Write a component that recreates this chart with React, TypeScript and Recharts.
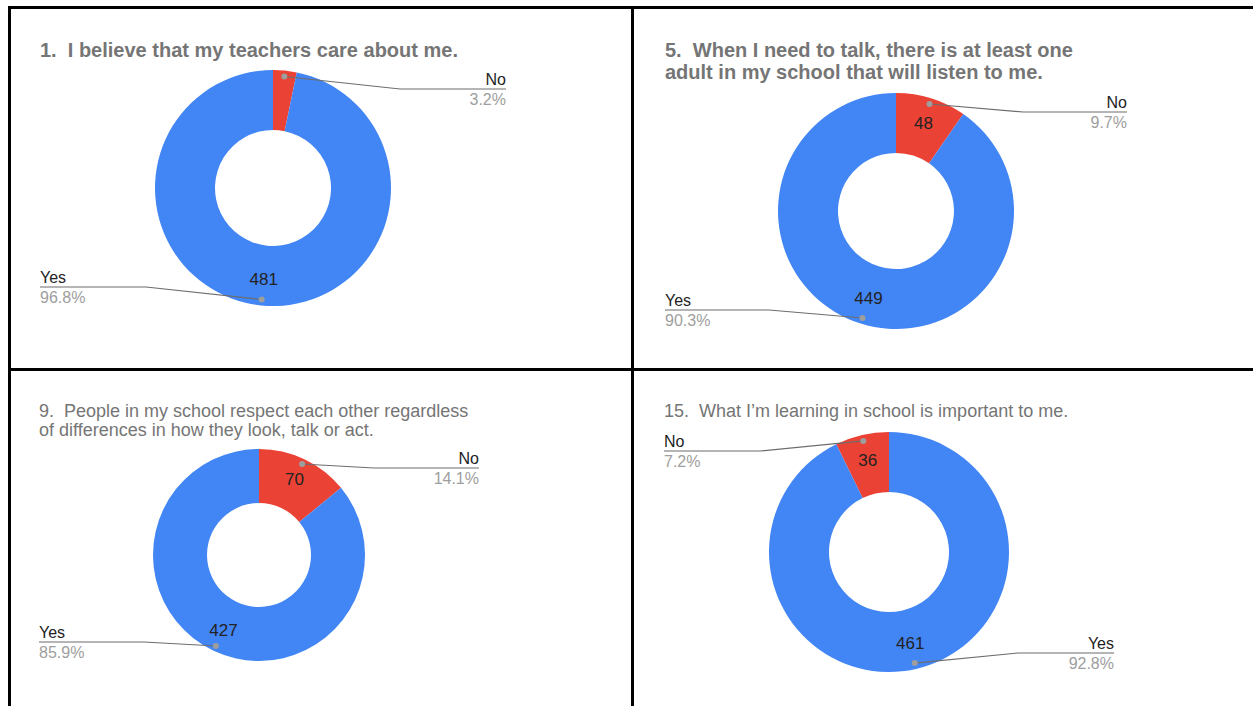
import { PieChart, Pie, Cell } from 'recharts';

// survey answers, shared by all four questions
const answers = ['No', 'Yes'];
const answerColors = ['#ea4335', '#4285f4'];

// response counts per question, in the order of `answers`
const q1Values = [16, 481];
const q5Values = [48, 449];
const q9Values = [70, 427];
const q15Values = [36, 461];

const q1Title = ['1.  I believe that my teachers care about me.'];
const q5Title = ['5.  When I need to talk, there is at least one', 'adult in my school that will listen to me.'];
const q9Title = ['9.  People in my school respect each other regardless', 'of differences in how they look, talk or act.'];
const q15Title = ['15.  What I\u2019m learning in school is important to me.'];

const FONT = 'Arial, "Liberation Sans", Helvetica, sans-serif';
const RAD = Math.PI / 180;

function makeLabel(reach: number) {
  return (props: any) => {
    const { cx, cy, midAngle, innerRadius, outerRadius, percent, value, name } = props;
    const cos = Math.cos(-midAngle * RAD);
    const sin = Math.sin(-midAngle * RAD);
    const dotR = outerRadius * 0.95;
    const dotX = cx + dotR * cos;
    const dotY = cy + dotR * sin;
    const sign = dotX >= cx ? 1 : -1;
    const lineY = cy + (dotY >= cy ? 1 : -1) * (outerRadius - 19);
    const elbowX = cx + sign * (outerRadius + 9);
    const endX = cx + sign * reach;
    const anchor = sign > 0 ? 'end' : 'start';
    const midR = (innerRadius + outerRadius) / 2 + 4;
    const vx = cx + midR * cos;
    const vy = cy + midR * sin;
    return (
      <g>
        {percent >= 0.05 && (
          <text x={vx} y={vy} textAnchor="middle" dominantBaseline="central" fontSize={17} fill="#222" fontFamily={FONT}>
            {value}
          </text>
        )}
        <polyline
          points={`${dotX},${dotY} ${elbowX},${lineY} ${endX},${lineY}`}
          fill="none"
          stroke="#6d6d6d"
          strokeWidth={1.2}
        />
        <circle cx={dotX} cy={dotY} r={3} fill="#9e9e9e" />
        <text x={endX} y={lineY - 4} textAnchor={anchor} fontSize={16} fill="#222" fontFamily={FONT}>
          {name}
        </text>
        <text x={endX} y={lineY + 16} textAnchor={anchor} fontSize={16} fill="#9e9e9e" fontFamily={FONT}>
          {(percent * 100).toFixed(1)}%
        </text>
      </g>
    );
  };
}

interface DonutProps {
  values: number[];
  title: string[];
  bold: boolean;
  left: number;
  top: number;
  width: number;
  height: number;
  cx: number;
  cy: number;
  outer: number;
  inner: number;
  reach: number;
  titleTop: number;
  titleLeft: number;
  clockwise?: boolean;
}

function Donut({ values, title, bold, left, top, width, height, cx, cy, outer, inner, reach, titleTop, titleLeft, clockwise = true }: DonutProps) {
  const data = answers.map((name, i) => ({ name, value: values[i] }));
  return (
    <div style={{ position: 'absolute', left, top, width, height }}>
      <div
        style={{
          position: 'absolute',
          left: titleLeft,
          top: titleTop,
          fontSize: bold ? 20 : 18,
          lineHeight: bold ? '22px' : '19px',
          fontWeight: bold ? 700 : 400,
          color: '#757575',
          whiteSpace: 'pre',
          fontFamily: FONT,
        }}
      >
        {title.map((line, i) => (
          <div key={i}>{line}</div>
        ))}
      </div>
      <PieChart width={width} height={height} margin={{ top: 0, right: 0, bottom: 0, left: 0 }}>
        <Pie
          data={data}
          dataKey="value"
          nameKey="name"
          cx={cx}
          cy={cy}
          innerRadius={inner}
          outerRadius={outer}
          startAngle={90}
          endAngle={clockwise ? -270 : 450}
          stroke="none"
          label={makeLabel(reach)}
          labelLine={false}
          isAnimationActive={false}
        >
          {data.map((entry, index) => (
            <Cell key={`cell-${index}`} fill={answerColors[index]} />
          ))}
        </Pie>
      </PieChart>
    </div>
  );
}

export default function App() {
  const line = { position: 'absolute' as const, background: '#000' };
  return (
    <div style={{ position: 'absolute', left: 0, top: 0, width: 1253, height: 706, overflow: 'hidden', background: '#fff', fontFamily: FONT }}>
      <Donut values={q1Values} title={q1Title} bold left={10} top={8} width={621} height={360}
        cx={263} cy={180} outer={118} inner={58} reach={233} titleLeft={30} titleTop={31} />
      <Donut values={q5Values} title={q5Title} bold left={634} top={8} width={619} height={360}
        cx={262} cy={203} outer={118} inner={58} reach={231} titleLeft={31} titleTop={31} />
      <Donut values={q9Values} title={q9Title} bold={false} left={10} top={371} width={621} height={335}
        cx={249} cy={184} outer={106} inner={52} reach={220} titleLeft={29} titleTop={31} />
      <Donut values={q15Values} title={q15Title} bold={false} left={634} top={371} width={619} height={335}
        cx={255} cy={181} outer={120} inner={60} reach={225} titleLeft={30} titleTop={31} clockwise={false} />
      <div style={{ ...line, left: 8, top: 6, width: 1245, height: 3 }} />
      <div style={{ ...line, left: 8, top: 6, width: 3, height: 700 }} />
      <div style={{ ...line, left: 631, top: 6, width: 3, height: 700 }} />
      <div style={{ ...line, left: 8, top: 368, width: 1245, height: 3 }} />
    </div>
  );
}
